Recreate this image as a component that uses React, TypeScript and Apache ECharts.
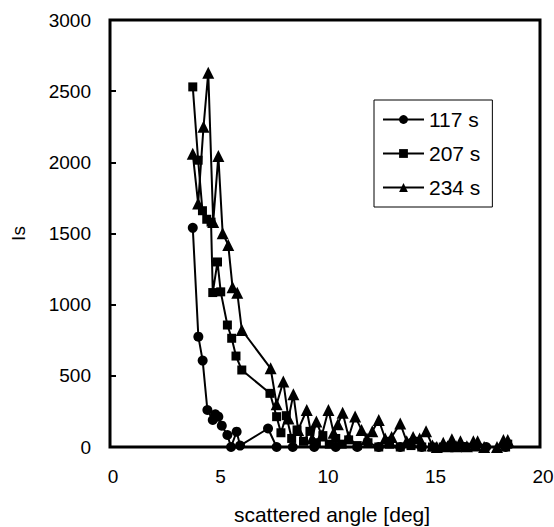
import React, { useEffect, useRef } from "react";
import * as echarts from "echarts";

const seriesNames = ["117 s", "207 s", "234 s"];

const angle117 = [3.85, 4.11, 4.31, 4.53, 4.78, 4.9, 5.04, 5.2, 5.46, 5.63, 5.89, 6.05, 7.35, 7.75, 8.5, 9.5, 10.5, 11.5, 12.5, 13.5, 14.5, 15.5, 16.5, 17.5, 18.4];
const is117 = [1540, 775, 607, 260, 190, 230, 213, 150, 84, 0, 108, 10, 130, 0, 0, 0, 0, 0, 0, 0, 0, 0, 0, 0, 0];

const angle207 = [3.85, 4.1, 4.3, 4.5, 4.7, 4.78, 5.0, 5.15, 5.46, 5.66, 5.86, 6.13, 7.44, 7.75, 7.95, 8.2, 8.45, 8.7, 9.0, 9.3, 9.6, 9.9, 10.2, 10.5, 10.8, 11.1, 11.5, 12.0, 12.5, 13.0, 13.5, 14.0, 14.5, 15.0, 15.5, 16.0, 16.5, 17.0, 18.4, 18.5];
const is207 = [2530, 2015, 1660, 1600, 1580, 1085, 1300, 1090, 857, 764, 639, 541, 377, 213, 100, 220, 60, 120, 40, 110, 30, 80, 20, 60, 20, 50, 10, 30, 0, 20, 0, 10, 0, 0, 0, 0, 0, 0, 0, 20];

const angle234 = [3.85, 4.1, 4.35, 4.57, 4.8, 5.04, 5.24, 5.5, 5.7, 5.92, 6.13, 7.47, 7.75, 8.06, 8.3, 8.53, 8.75, 9.15, 9.4, 9.6, 9.85, 10.16, 10.4, 10.6, 10.82, 11.1, 11.4, 11.7, 11.95, 12.2, 12.5, 12.8, 13.1, 13.5, 13.8, 14.1, 14.4, 14.7, 15.0, 15.2, 15.5, 15.7, 15.9, 16.1, 16.3, 16.6, 16.9, 17.1, 17.4, 18.0, 18.3, 18.5];
const is234 = [2060, 1710, 2250, 2630, 1580, 2045, 1502, 1420, 1122, 1084, 822, 553, 300, 460, 200, 370, 120, 260, 60, 180, 80, 260, 100, 160, 240, 70, 215, 120, 60, 110, 190, 60, 70, 165, 40, 70, 60, 110, 10, 0, 30, 5, 55, 5, 40, 5, 40, 40, 0, 0, 50, 50];

const yTicks = [0, 500, 1000, 1500, 2000, 2500, 3000];
const xTicks = [0, 5, 10, 15, 20];

const zip = (xs: number[], ys: number[]) => xs.map((x, i) => [x, ys[i]]);

export default function App() {
  const ref = useRef<HTMLDivElement>(null);
  useEffect(() => {
    if (!ref.current) return;
    document.body.style.margin = "0";
    document.body.style.overflow = "hidden";
    const chart = echarts.init(ref.current, null, { renderer: "svg" });
    const font = "'Liberation Sans', Arial, sans-serif";
    const symbols = ["circle", "rect", "triangle"];
    const sizes = [10, 9, 12];
    const data = [zip(angle117, is117), zip(angle207, is207), zip(angle234, is234)];
    chart.setOption({
      animation: false,
      backgroundColor: "#fff",
      grid: {
        left: 110,
        top: 20,
        right: 14,
        bottom: 80,
        containLabel: false,
        outerBoundsMode: "none",
        show: true,
        borderColor: "#000",
        borderWidth: 3,
        backgroundColor: "transparent",
      },
      legend: {
        orient: "vertical",
        left: 374,
        top: 100,
        padding: [9, 12, 9, 8],
        borderColor: "#000",
        borderWidth: 1,
        itemWidth: 41,
        itemHeight: 11,
        itemGap: 13,
        data: seriesNames,
        textStyle: { fontFamily: font, fontSize: 21, color: "#000" },
      },
      xAxis: {
        type: "value",
        min: xTicks[0],
        max: xTicks[xTicks.length - 1],
        interval: 5,
        name: "scattered angle [deg]",
        nameLocation: "middle",
        nameGap: 57,
        nameTextStyle: { fontFamily: font, fontSize: 21, color: "#000", padding: [0, 0, 0, 14] },
        axisLine: { show: false },
        axisTick: { show: false },
        splitLine: { show: false },
        axisLabel: {
          fontFamily: font,
          fontSize: 19,
          color: "#000",
          margin: 20,
          padding: [0, 0, 0, 6],
          formatter: (v: number) => String(v),
        },
      },
      yAxis: {
        type: "value",
        min: yTicks[0],
        max: yTicks[yTicks.length - 1],
        interval: 500,
        name: "Is",
        nameLocation: "middle",
        nameGap: 82,
        nameTextStyle: { fontFamily: font, fontSize: 19, color: "#000" },
        axisLine: { show: false },
        axisTick: { show: true, inside: true, length: 6, lineStyle: { color: "#000", width: 2 } },
        splitLine: { show: false },
        axisLabel: {
          fontFamily: font,
          fontSize: 19,
          color: "#000",
          margin: 19,
          formatter: (v: number) => String(v),
        },
      },
      series: seriesNames.map((name, i) => ({
        name,
        type: "line",
        data: data[i],
        symbol: symbols[i],
        symbolSize: sizes[i],
        showAllSymbol: true,
        color: "#000",
        itemStyle: { color: "#000" },
        lineStyle: { color: "#000", width: 2 },
        z: 3 + i,
      })),
    });
    return () => chart.dispose();
  }, []);
  return <div ref={ref} style={{ width: 554, height: 527 }} />;
}
